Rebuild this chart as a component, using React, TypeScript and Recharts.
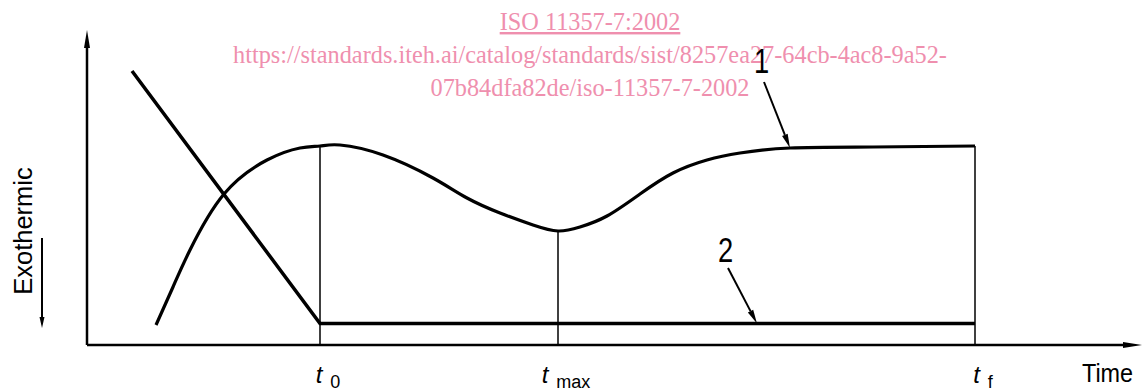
import React from 'react';
import { ComposedChart, Line, XAxis, YAxis, ReferenceLine, Customized } from 'recharts';

// Curve 1 (DSC-like signal) – time vs. signal
const curve1Time = [6.9, 8.6, 10.3, 13.7, 18.0, 21.3, 23.3, 25.3, 29.6, 34.6, 38.0, 41.3, 44.6, 47.1, 49.3, 52.0, 55.3, 58.6, 62.0, 65.3, 70.3, 78.6, 88.8];
const curve1Value = [2.0, 5.8, 9.5, 15.1, 18.5, 19.7, 19.9, 20.0, 19.0, 16.7, 14.7, 13.2, 12.0, 11.4, 11.8, 12.9, 15.1, 17.2, 18.5, 19.2, 19.7, 19.8, 19.9];

// Curve 2 (straight line then plateau)
const curve2Time = [4.5, 23.3, 88.8];
const curve2Value = [27.4, 2.15, 2.15];

// Characteristic times and their labels
const markerTimes = [23.3, 47.1, 88.8];
const markerSubs = ['0', 'max', 'f'];

// Annotation arrows: [startTime, startValue, endTime, endValue]
const arrow1 = [67.7, 26.3, 70.3, 19.7];
const arrow2 = [64.1, 7.7, 67.0, 2.15];

const headerLines = [
  'ISO 11357-7:2002',
  'https://standards.iteh.ai/catalog/standards/sist/8257ea27-64cb-4ac8-9a52-',
  '07b84dfa82de/iso-11357-7-2002',
];

const X_MAX = 105.5;
const Y_MAX = 31.5;

const data1 = curve1Time.map((t, i) => ({ t, v: curve1Value[i] }));
const data2 = curve2Time.map((t, i) => ({ t, v: curve2Value[i] }));

const SANS = "'Liberation Sans', Arial, Helvetica, sans-serif";
const SERIF = "'Liberation Serif', 'Times New Roman', Times, serif";

function arrowHead(x1: number, y1: number, x2: number, y2: number, len: number, half: number) {
  const dx = x2 - x1;
  const dy = y2 - y1;
  const d = Math.sqrt(dx * dx + dy * dy) || 1;
  const ux = dx / d;
  const uy = dy / d;
  const bx = x2 - ux * len;
  const by = y2 - uy * len;
  const px = -uy * half;
  const py = ux * half;
  return { bx, by, pts: `${x2},${y2} ${bx + px},${by + py} ${bx - px},${by - py}` };
}

const makeArrow = (len: number, half: number, width: number, label?: string, ldx = 0, ldy = 0) =>
  (props: any) => {
    const { x1, y1, x2, y2 } = props;
    if ([x1, y1, x2, y2].some((n) => n == null || isNaN(n))) return <g />;
    const h = arrowHead(x1, y1, x2, y2, len, half);
    return (
      <g>
        <line x1={x1} y1={y1} x2={h.bx} y2={h.by} stroke="#000" strokeWidth={width} />
        <polygon points={h.pts} fill="#000" />
        {label ? (
          <text
            x={0}
            y={0}
            transform={`translate(${x1 + ldx} ${y1 + ldy}) scale(0.78 1)`}
            textAnchor="middle"
            fontFamily={SANS}
            fontSize={35}
            fill="#000"
          >
            {label}
          </text>
        ) : null}
      </g>
    );
  };

const TimeTick = (props: any) => {
  const { x, index } = props;
  const sub = markerSubs[index] ?? '';
  return (
    <text x={x + 8} y={383} textAnchor="middle" fill="#000" fontFamily={SANS}>
      <tspan fontStyle="italic" fontSize={24}>t</tspan>
      <tspan dx={8} dy={5} fontSize={18}>{sub}</tspan>
    </text>
  );
};

const TimeLabel = () => (
  <text x={0} y={0} transform="translate(1082 382) scale(0.9 1)" fontFamily={SANS} fontSize={26} fill="#000">
    Time
  </text>
);

const ExoLabel = () => {
  const h = arrowHead(42, 238, 42, 328, 11, 2.5);
  return (
    <g>
      <text
        x={32}
        y={231}
        transform="rotate(-90 32 231)"
        textAnchor="middle"
        fontFamily={SANS}
        fontSize={25.5}
        fill="#000"
      >
        Exothermic
      </text>
      <line x1={42} y1={238} x2={h.bx} y2={h.by} stroke="#000" strokeWidth={2} />
      <polygon points={h.pts} fill="#000" />
    </g>
  );
};

const Header = () => (
  <g fontFamily={SERIF} fontSize={24.3} fill="#ef8fae">
    <text x={590} y={30} textAnchor="middle" textDecoration="underline">{headerLines[0]}</text>
    <text x={590} y={63} textAnchor="middle">{headerLines[1]}</text>
    <text x={590} y={96} textAnchor="middle">{headerLines[2]}</text>
  </g>
);

export default function App() {
  return (
    <div style={{ position: 'absolute', left: 0, top: 0, width: 1143, height: 392, background: '#fff' }}>
      <ComposedChart width={1143} height={392} margin={{ top: 30, right: 1, bottom: 0, left: 0 }}>
        <XAxis
          type="number"
          dataKey="t"
          domain={[0, X_MAX]}
          allowDataOverflow
          ticks={markerTimes}
          interval={0}
          tick={TimeTick}
          tickLine={false}
          axisLine={false}
          height={47}
          label={{ content: TimeLabel }}
        />
        <YAxis
          type="number"
          dataKey="v"
          domain={[0, Y_MAX]}
          allowDataOverflow
          width={87}
          tick={false}
          tickLine={false}
          axisLine={false}
          label={{ content: ExoLabel }}
        />
        {/* axes with arrow heads */}
        <ReferenceLine
          segment={[{ x: 0, y: 0 }, { x: X_MAX, y: 0 }]}
          ifOverflow="visible"
          shape={makeArrow(19, 3, 2.5)}
        />
        <ReferenceLine
          segment={[{ x: 0, y: 0 }, { x: 0, y: Y_MAX }]}
          ifOverflow="visible"
          shape={makeArrow(18, 3, 2.5)}
        />
        {/* vertical lines at characteristic times */}
        {markerTimes.map((t) => (
          <ReferenceLine
            key={`m-${t}`}
            segment={[{ x: t, y: 0 }, { x: t, y: curve1Value[curve1Time.indexOf(t)] }]}
            ifOverflow="visible"
            stroke="#000"
            strokeWidth={1.5}
          />
        ))}
        <Line
          data={data2}
          dataKey="v"
          type="linear"
          stroke="#000"
          strokeWidth={3.5}
          dot={false}
          activeDot={false}
          isAnimationActive={false}
        />
        <Line
          data={data1}
          dataKey="v"
          type="natural"
          stroke="#000"
          strokeWidth={3.2}
          dot={false}
          activeDot={false}
          isAnimationActive={false}
        />
        <ReferenceLine
          segment={[{ x: arrow1[0], y: arrow1[1] }, { x: arrow1[2], y: arrow1[3] }]}
          ifOverflow="visible"
          shape={makeArrow(14, 3, 2, '1', -2.5, -9)}
        />
        <ReferenceLine
          segment={[{ x: arrow2[0], y: arrow2[1] }, { x: arrow2[2], y: arrow2[3] }]}
          ifOverflow="visible"
          shape={makeArrow(14, 3, 2, '2', -2.5, -6)}
        />
        <Customized component={Header} />
      </ComposedChart>
    </div>
  );
}
